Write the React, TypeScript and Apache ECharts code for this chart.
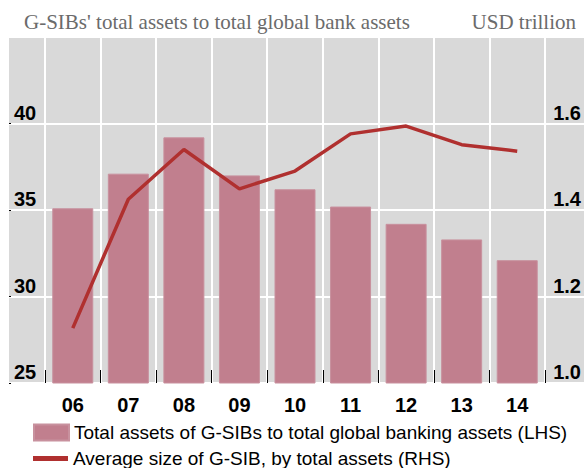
import React, { useEffect, useRef } from "react";
import * as echarts from "echarts";

const years = ["06", "07", "08", "09", "10", "11", "12", "13", "14"];
const shareLHS = [35.1, 37.1, 39.2, 37.0, 36.2, 35.2, 34.2, 33.3, 32.1];
const avgSizeRHS = [1.127, 1.425, 1.54, 1.449, 1.49, 1.576, 1.594, 1.551, 1.536];
const barName = "Total assets of G-SIBs to total global banking assets (LHS)";
const lineName = "Average size of G-SIB, by total assets (RHS)";

const sans = "Liberation Sans, Arial, sans-serif";
const serif = "Liberation Serif, Times New Roman, serif";

export default function App() {
  const ref = useRef<HTMLDivElement>(null);
  useEffect(() => {
    const chart = echarts.init(ref.current!, null, { renderer: "svg" });
    const gTop = 37;
    const gBottom = 85;
    const legendBase = {
      orient: "vertical",
      left: 28,
      itemWidth: 35,
      itemHeight: 16,
      textStyle: { fontFamily: sans, fontSize: 19, color: "#000" },
    };
    const axisFont = { fontFamily: sans, fontSize: 20, fontWeight: "bold", color: "#000" };
    chart.setOption({
      animation: false,
      backgroundColor: "#ffffff",
      title: [
        {
          text: "G-SIBs' total assets to total global bank assets",
          left: 19,
          top: 6,
          textStyle: { fontFamily: serif, fontSize: 21, fontWeight: "normal", color: "#6b6b6b" },
        },
        {
          text: "USD trillion",
          right: 3,
          top: 6,
          textStyle: { fontFamily: serif, fontSize: 21, fontWeight: "normal", color: "#6b6b6b" },
        },
      ],
      legend: [
        { ...legendBase, top: 418, data: [{ name: barName, icon: "rect" }] },
        { ...legendBase, top: 444, data: [{ name: lineName, icon: "path://M0,0H35V5H0Z" }] },
      ],
      grid: [
        { left: 9, right: 0, top: gTop, bottom: gBottom, show: true, backgroundColor: "#d9d9d9", borderWidth: 0 },
        { left: 45, right: 39, top: gTop, bottom: gBottom },
      ],
      xAxis: [
        { gridIndex: 0, type: "value", show: false, min: 0, max: 1 },
        {
          gridIndex: 1,
          type: "category",
          data: years,
          axisLine: { show: false },
          axisTick: { show: true, inside: true, length: 13, lineStyle: { color: "#000", width: 1 } },
          splitLine: { show: true, lineStyle: { color: "#ffffff", width: 2 } },
          axisLabel: { ...axisFont, margin: 12 },
        },
      ],
      yAxis: [
        {
          gridIndex: 0,
          type: "value",
          position: "left",
          min: 25,
          max: 45,
          interval: 5,
          axisLine: { show: false },
          axisTick: { show: true, inside: true, length: 2, lineStyle: { color: "#000" } },
          splitLine: { show: true, lineStyle: { color: "#ffffff", width: 2 } },
          axisLabel: {
            ...axisFont,
            inside: true,
            margin: 5,
            showMaxLabel: false,
            verticalAlign: "bottom",
            padding: [0, 0, 1, 0],
          },
        },
        {
          gridIndex: 0,
          type: "value",
          position: "right",
          min: 1,
          max: 1.8,
          interval: 0.2,
          axisLine: { show: false },
          axisTick: { show: false },
          splitLine: { show: false },
          axisLabel: {
            ...axisFont,
            inside: true,
            margin: 3,
            showMaxLabel: false,
            verticalAlign: "bottom",
            padding: [0, 0, 1, 0],
            formatter: (v: number) => v.toFixed(1),
          },
        },
        { gridIndex: 1, type: "value", min: 25, max: 45, show: false },
        { gridIndex: 1, type: "value", min: 1, max: 1.8, show: false },
      ],
      series: [
        {
          name: barName,
          type: "bar",
          xAxisIndex: 1,
          yAxisIndex: 2,
          data: shareLHS,
          barWidth: 41,
          itemStyle: { color: "#c17f8e", borderColor: "#c8919e", borderWidth: 1 },
        },
        {
          name: lineName,
          type: "line",
          xAxisIndex: 1,
          yAxisIndex: 3,
          data: avgSizeRHS,
          symbol: "none",
          lineStyle: { color: "#b0302f", width: 3.5 },
          itemStyle: { color: "#b0302f" },
        },
      ],
    });
    return () => chart.dispose();
  }, []);
  return <div ref={ref} style={{ position: "fixed", left: 0, top: 0, width: 584, height: 468 }} />;
}
